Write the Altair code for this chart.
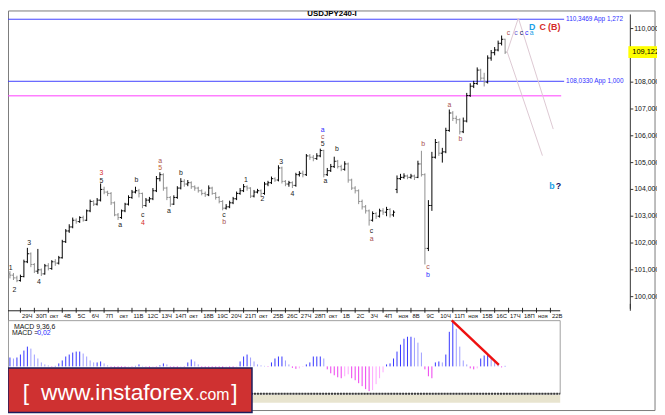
import altair as alt
import pandas as pd
import numpy as np

# ---------------- data ----------------
CLOSE = [
    100.80, 100.70, 100.60, 100.75, 101.30, 101.60, 101.20, 100.95, 101.00, 100.85,
    101.15, 101.05, 101.30, 101.25, 101.45, 102.05, 102.45, 102.60, 102.85, 102.80,
    102.95, 102.85, 103.20, 103.55, 103.45, 103.60, 104.00, 103.90, 103.85, 103.50,
    103.05, 102.95, 103.20, 103.45, 103.70, 103.90, 103.95, 103.85, 103.40, 103.60,
    103.65, 103.95, 104.40, 104.55, 104.05, 103.70, 103.45, 103.70, 104.05, 104.30,
    104.20, 104.25, 104.10, 104.05, 103.95, 103.85, 103.80, 104.05, 103.85, 103.70,
    103.55, 103.30, 103.35, 103.50, 103.65, 103.85, 103.95, 104.10, 104.05, 103.75,
    103.90, 103.95, 103.85, 104.20, 104.25, 104.40, 104.35, 104.80, 104.30, 104.20,
    104.25, 104.15, 104.55, 104.60, 104.55, 105.25, 105.20, 105.15, 105.25, 105.45,
    104.55, 104.70, 104.85, 105.05, 104.85, 104.75, 104.95, 104.35, 104.05, 103.95,
    103.55, 103.35, 103.20, 102.85, 103.10, 103.00, 103.20, 103.15, 103.25, 103.05,
    103.15, 104.40, 104.45, 104.50, 104.45, 104.50, 104.45, 104.95, 104.55, 101.80,
    103.40, 105.20, 105.75, 105.35, 105.40, 106.20, 106.85, 106.65, 106.60, 106.15,
    106.55, 107.50, 107.85, 107.95, 108.45, 108.15, 108.00, 108.90, 109.10, 109.20,
    109.45, 109.60, 109.12,
]
HIGH = [
    100.95, 100.88, 100.78, 100.82, 101.38, 101.82, 101.65, 101.25, 101.78, 101.05,
    101.22, 101.25, 101.36, 101.40, 101.52, 102.12, 102.52, 102.70, 102.95, 102.92,
    103.00, 103.02, 103.25, 103.62, 103.60, 103.68, 104.22, 104.10, 103.95, 103.90,
    103.55, 103.12, 103.25, 103.50, 103.78, 103.98, 104.10, 104.02, 103.88, 103.68,
    103.72, 104.05, 104.50, 104.64, 104.60, 104.10, 103.75, 103.78, 104.12, 104.42,
    104.38, 104.35, 104.30, 104.15, 104.10, 104.00, 103.92, 104.15, 104.10, 103.90,
    103.75, 103.60, 103.45, 103.58, 103.72, 103.92, 104.05, 104.20, 104.15, 104.08,
    103.98, 104.02, 104.00, 104.28, 104.32, 104.48, 104.45, 104.90, 104.85, 104.35,
    104.32, 104.30, 104.62, 104.68, 104.70, 105.32, 105.32, 105.28, 105.35, 105.52,
    105.48, 104.80, 104.95, 105.22, 105.10, 104.92, 105.05, 105.00, 104.40, 104.12,
    104.00, 103.62, 103.42, 103.25, 103.18, 103.15, 103.28, 103.30, 103.35, 103.30,
    103.22, 104.52, 104.58, 104.60, 104.55, 104.58, 104.55, 105.07, 105.44, 104.60,
    103.60, 105.40, 105.88, 105.80, 105.55, 106.30, 106.98, 106.92, 106.75, 106.65,
    106.68, 107.60, 107.96, 108.05, 108.55, 108.50, 108.35, 109.00, 109.20, 109.31,
    109.55, 109.74, 109.62,
]
LOW = [
    100.68, 100.62, 100.54, 100.56, 100.72, 101.25, 101.10, 100.88, 100.85, 100.77,
    100.82, 100.98, 101.00, 101.15, 101.20, 101.42, 102.00, 102.38, 102.55, 102.72,
    102.75, 102.80, 102.82, 103.15, 103.38, 103.40, 103.55, 103.82, 103.75, 103.42,
    103.00, 102.86, 102.90, 103.15, 103.40, 103.65, 103.85, 103.70, 103.30, 103.35,
    103.50, 103.60, 103.90, 104.30, 103.95, 103.60, 103.35, 103.42, 103.65, 104.00,
    104.10, 104.12, 104.02, 103.95, 103.88, 103.78, 103.72, 103.75, 103.80, 103.62,
    103.48, 103.22, 103.25, 103.30, 103.45, 103.60, 103.80, 103.90, 103.95, 103.68,
    103.70, 103.85, 103.72, 103.80, 104.12, 104.20, 104.28, 104.30, 104.22, 104.12,
    104.10, 104.05, 104.10, 104.48, 104.45, 104.50, 105.10, 105.05, 105.10, 105.20,
    104.45, 104.50, 104.65, 104.80, 104.78, 104.68, 104.70, 104.25, 103.98, 103.85,
    103.45, 103.25, 103.10, 102.65, 102.80, 102.90, 102.95, 103.05, 103.00, 102.95,
    102.98, 103.86, 104.35, 104.40, 104.38, 104.40, 104.35, 104.42, 104.48, 101.20,
    101.70, 103.20, 105.15, 105.25, 105.00, 105.35, 106.15, 106.55, 106.45, 106.05,
    106.10, 106.50, 107.45, 107.78, 107.90, 108.05, 107.84, 107.95, 108.80, 109.00,
    109.15, 109.37, 109.05,
]
FIRST_OPEN = 100.85
GAP_BAR = 111
GAP_OPEN = 104.00

MACD = [
    0.09, 0.08, 0.09, 0.12, 0.16, 0.20, 0.18, 0.12, 0.08, 0.04,
    0.02, 0.01, -0.005, 0.005, 0.03, 0.06, 0.10, 0.12, 0.14, 0.15,
    0.15, 0.13, 0.10, 0.06, 0.04, 0.04, 0.05, 0.03, 0.01, -0.005,
    -0.01, -0.01, -0.01, -0.01, -0.005, -0.005, 0.005, 0.02, 0.005, -0.005,
    -0.01, -0.005, -0.005, 0.01, 0.03, 0.02, -0.005, -0.01, -0.01, -0.005,
    -0.005, 0.04, 0.07, 0.05, 0.02, -0.01, -0.01, -0.01, -0.01, -0.01,
    -0.01, -0.015, -0.01, -0.01, -0.01, -0.005, 0.05, 0.10, 0.12, 0.09,
    0.05, 0.02, 0.01, 0.005, -0.005, 0.04, 0.08, 0.10, 0.10, 0.06,
    0.02, -0.015, -0.025, -0.02, -0.005, 0.02, 0.04, 0.10, 0.10, 0.10,
    0.08, -0.03, -0.07, -0.09, -0.11, -0.12, -0.10, -0.08, -0.12, -0.14,
    -0.17, -0.20, -0.23, -0.25, -0.24, -0.18, -0.12, -0.06, 0.02, 0.03,
    0.08, 0.15, 0.22, 0.28, 0.30, 0.30, 0.29, 0.24, 0.14, -0.03,
    -0.10, -0.12, 0.04, 0.05, 0.04, 0.12, 0.35, 0.45, 0.38, 0.20,
    0.06, 0.02, -0.02, -0.03, -0.02, 0.08, 0.11, 0.12, 0.09, 0.06,
    0.03, -0.01, 0.005,
]

DATE_LABELS = ["29Ч", "30П", "окт", "4В", "5С", "6Ч", "7П", "окт", "11В", "12С",
               "13Ч", "14П", "окт", "18В", "19С", "20Ч", "21П", "окт", "25В", "26С",
               "27Ч", "28П", "окт", "1В", "2С", "3Ч", "4П", "ноя", "8В", "9С",
               "10Ч", "11П", "ноя", "15В", "16С", "17Ч", "18П", "ноя", "22В"]
DATE_TICK_BARS = [3 + 4 * k for k in range(len(DATE_LABELS))]

PRICE_TICKS = [100, 101, 102, 103, 104, 105, 106, 107, 108, 109, 110]
LEVEL_PRICES = [110.3469, 108.0330]
LEVEL_TEXTS = ["110,3469 App 1,272", "108,0330 App 1,000"]
MAGENTA_PRICE = 107.49
LAST_PRICE = 109.122
LAST_TEXT = "109,122"

SMALL_TEXT = ["1", "2", "3", "4", "3", "5", "a", "b", "c", "4", "a", "5", "a", "b",
              "c", "b", "1", "2", "3", "4", "a", "c", "5", "a", "b", "c", "a", "b",
              "c", "b", "a", "b", "c", "c", "c", "c", "a"]
SMALL_BAR = [0.2, 1.3, 5.5, 8.3, 26.2, 26.2, 31.6, 36.3, 38.1, 38.1, 43.1, 43.1, 45.6, 49.0,
             61.4, 61.4, 67.7, 72.4, 77.8, 81.0, 89.7, 89.7, 89.7, 90.5, 93.8, 103.7, 103.7, 118.5,
             119.9, 119.9, 126.0, 129.2, 143.0, 145.1, 146.7, 148.2, 149.6]
SMALL_PRICE = [101.06, 100.25, 102.00, 100.55, 104.60, 104.31, 102.68, 104.34, 103.04, 102.76,
               105.05, 104.78, 103.21, 104.62, 103.05, 102.77, 104.36, 103.63, 105.01, 103.82,
               106.20, 105.94, 105.68, 104.31, 105.50, 102.43, 102.15, 105.69, 101.09, 100.80,
               107.14, 105.87, 109.83, 109.83, 109.83, 109.83, 109.83]
SMALL_KIND = ["k", "k", "k", "k", "r", "k", "k", "k", "k", "r", "m", "o", "k", "k",
              "k", "m", "k", "k", "k", "k", "b", "m", "k", "k", "k", "k", "m", "m",
              "m", "b", "m", "m", "m", "v", "n", "b", "c"]

BIG_TEXT = ["D", "C", "(B)", "b", "?"]
BIG_BAR = [149.8, 152.8, 156.1, 155.4, 157.3]
BIG_PRICE = [110.07, 110.07, 110.07, 104.12, 104.12]
BIG_KIND = ["c", "r", "r", "c", "n"]

CHAN_X1 = [142.6, 145.8, 142.6]
CHAN_P1 = [109.13, 110.39, 109.13]
CHAN_X2 = [145.8, 155.8, 152.7]
CHAN_P2 = [110.39, 106.25, 105.26]

TREND_X = [126.7, 140.2]
TREND_M = [0.466, 0.016]

KIND_COLOR = {"k": "#1a1a1a", "r": "#d42a2a", "m": "#a8504f", "o": "#c0602a",
              "b": "#2a2aff", "c": "#1aa0e6", "n": "#101060", "v": "#6a5acd"}

# ---------------- scales ----------------
W, H = 657, 407
XS = alt.Scale(domain=[-0.56, 185.56], nice=False, zero=False)
PS = alt.Scale(domain=[95.678, 110.674], nice=False, zero=False)
MS = alt.Scale(domain=[-0.467, 3.603], nice=False, zero=False)
FONT = "Liberation Sans"


def X(f):
    return alt.X(f + ":Q", scale=XS, axis=None)


def YP(f):
    return alt.Y(f + ":Q", scale=PS, axis=None)


def YM(f):
    return alt.Y(f + ":Q", scale=MS, axis=None)


ONE = pd.DataFrame({"k": [0]})


def box(x1, x2, y1, y2, **kw):
    return alt.Chart(ONE).mark_rect(**kw).encode(
        x=alt.value(x1), x2=alt.value(x2), y=alt.value(y1), y2=alt.value(y2))


def seg(x1, x2, y1, y2, **kw):
    return alt.Chart(ONE).mark_rule(**kw).encode(
        x=alt.value(x1), x2=alt.value(x2), y=alt.value(y1), y2=alt.value(y2))


def txt(x, y, s, **kw):
    return alt.Chart(ONE).mark_text(text=s, **kw).encode(x=alt.value(x), y=alt.value(y))


# ---------------- tables ----------------
n = len(CLOSE)
opens = [FIRST_OPEN] + CLOSE[:-1]
opens[GAP_BAR] = GAP_OPEN
bars = pd.DataFrame({"i": np.arange(n), "o": opens, "h": HIGH, "l": LOW, "c": CLOSE})
bars["il"] = bars.i - 0.45
bars["ir"] = bars.i + 0.45
bars["col"] = np.where(bars.c >= bars.o, "#000000", "#8f8f8f")

macd = pd.DataFrame({"i": np.arange(len(MACD)), "m": MACD})
macd["z"] = 0.0
prev = macd.m.shift(1).fillna(0)
macd["col"] = np.where(macd.m >= 0,
                       np.where(macd.m >= prev, "#3434ff", "#9c9cff"),
                       np.where(macd.m <= prev, "#ee3cee", "#ffa6ff"))

dates = pd.DataFrame({"t": DATE_TICK_BARS, "lab": DATE_LABELS})
pticks = pd.DataFrame({"p": PRICE_TICKS})
pticks["lab"] = [f"{p:.3f}".replace(".", ",") for p in PRICE_TICKS]
levels = pd.DataFrame({"p": LEVEL_PRICES, "lab": LEVEL_TEXTS})
mag = pd.DataFrame({"p": [MAGENTA_PRICE]})
last = pd.DataFrame({"p": [LAST_PRICE], "p1": [LAST_PRICE + 0.22], "p2": [LAST_PRICE - 0.22],
                     "lab": [LAST_TEXT]})
small = pd.DataFrame({"t": SMALL_TEXT, "i": SMALL_BAR, "p": SMALL_PRICE,
                      "col": [KIND_COLOR[k] for k in SMALL_KIND]})
big = pd.DataFrame({"t": BIG_TEXT, "i": BIG_BAR, "p": BIG_PRICE,
                    "col": [KIND_COLOR[k] for k in BIG_KIND]})
chan = pd.DataFrame({"x1": CHAN_X1, "p1": CHAN_P1, "x2": CHAN_X2, "p2": CHAN_P2})
trend = pd.DataFrame({"x1": [TREND_X[0]], "x2": [TREND_X[1]], "m1": [TREND_M[0]], "m2": [TREND_M[1]]})

# ---------------- layers ----------------
layers = []
# frames and panels
layers.append(box(0.5, 655, 0.5, 405, fillOpacity=0, stroke="#7a7a7a", strokeWidth=1))
layers.append(box(0, 559, 389, 397, color="#e8e4cf"))
layers.append(box(0.5, 559, 314, 388, fillOpacity=0, stroke="#a0a0a0", strokeWidth=1))
layers.append(seg(0, 559, 388, 388, color="#3a3a3a", strokeWidth=2, strokeDash=[2, 1]))
layers.append(seg(0, 559, 304, 304, color="#222222", strokeWidth=1))
layers.append(seg(630, 630, 4, 302, color="#333333", strokeWidth=1))
layers.append(seg(630, 630, 297, 304, color="#333333", strokeWidth=1))

# title
layers.append(txt(328, 4, "USDJPY240-I", font=FONT, fontSize=8, fontWeight="bold",
                  align="center", baseline="middle", color="#000000"))

# horizontal levels
layers.append(alt.Chart(levels).mark_rule(color="#4040ff", strokeWidth=1).encode(
    x=alt.value(0), x2=alt.value(563), y=YP("p")))
layers.append(alt.Chart(levels).mark_text(font=FONT, fontSize=6.5, align="left",
                                          baseline="middle", color="#3030ff").encode(
    x=alt.value(565), y=YP("p"), text="lab:N"))
layers.append(alt.Chart(mag).mark_rule(color="#ff3cff", strokeWidth=1).encode(
    x=alt.value(0), x2=alt.value(560), y=YP("p")))

# channel lines
layers.append(alt.Chart(chan).mark_rule(color="#dcc8d2", strokeWidth=1).encode(
    x=X("x1"), x2="x2:Q", y=YP("p1"), y2="p2:Q"))

# OHLC bars
cenc = alt.Color("col:N", scale=None)
layers.append(alt.Chart(bars).mark_rule(strokeWidth=1).encode(
    x=X("i"), y=YP("l"), y2="h:Q", color=cenc))
layers.append(alt.Chart(bars).mark_rule(strokeWidth=1).encode(
    x=X("il"), x2="i:Q", y=YP("o"), color=cenc))
layers.append(alt.Chart(bars).mark_rule(strokeWidth=1).encode(
    x=X("i"), x2="ir:Q", y=YP("c"), color=cenc))

# wave labels
layers.append(alt.Chart(small).mark_text(font=FONT, fontSize=7, align="center",
                                         baseline="middle").encode(
    x=X("i"), y=YP("p"), text="t:N", color=cenc))
layers.append(alt.Chart(big).mark_text(font=FONT, fontSize=9, fontWeight="bold",
                                       align="center", baseline="middle").encode(
    x=X("i"), y=YP("p"), text="t:N", color=cenc))

# price axis
layers.append(alt.Chart(pticks).mark_rule(color="#333333").encode(
    x=alt.value(630), x2=alt.value(633), y=YP("p")))
layers.append(alt.Chart(pticks).mark_text(font=FONT, fontSize=7, align="left",
                                          baseline="middle", color="#111111").encode(
    x=alt.value(634), y=YP("p"), text="lab:N"))
layers.append(alt.Chart(last).mark_rect(color="#ffff00").encode(
    x=alt.value(628), x2=alt.value(657), y=YP("p1"), y2="p2:Q"))
layers.append(alt.Chart(last).mark_text(font=FONT, fontSize=7.5, align="left",
                                        baseline="middle", color="#000000").encode(
    x=alt.value(632), y=YP("p"), text="lab:N"))

# date axis
layers.append(alt.Chart(dates).mark_rule(color="#222222").encode(
    x=X("t"), y=alt.value(301), y2=alt.value(306)))
layers.append(alt.Chart(dates).mark_text(font=FONT, fontSize=6, align="left",
                                         baseline="middle", dx=1.5, color="#111111").encode(
    x=X("t"), y=alt.value(309.5), text="lab:N"))

# MACD
layers.append(alt.Chart(macd).mark_rule(strokeWidth=1).encode(
    x=X("i"), y=YM("m"), y2="z:Q", color=cenc))
layers.append(alt.Chart(trend).mark_rule(color="#ee1111", strokeWidth=2.5).encode(
    x=X("x1"), x2="x2:Q", y=YM("m1"), y2="m2:Q"))
layers.append(txt(6, 320, "MACD 9,36,6", font=FONT, fontSize=7, align="left",
                  baseline="middle", color="#111111"))
layers.append(txt(4, 326.5, "MACD =", font=FONT, fontSize=7, align="left",
                  baseline="middle", color="#111111"))
layers.append(txt(29.5, 326.5, "0,02", font=FONT, fontSize=7, align="left",
                  baseline="middle", color="#2a2aff"))

# banner
layers.append(box(0, 247, 362, 407, color="#cf3131", stroke="#1c1c5c", strokeWidth=1.5))
layers.append(txt(15, 394, "[", font=FONT, fontSize=23, align="left",
                  baseline="alphabetic", color="#ffffff"))
layers.append(txt(33.5, 394, "www.instaforex", font=FONT, fontSize=23, align="left",
                  baseline="alphabetic", color="#ffffff"))
layers.append(txt(189.5, 394, ".com", font=FONT, fontSize=16, align="left",
                  baseline="alphabetic", color="#ffffff"))
layers.append(txt(226, 394, "]", font=FONT, fontSize=23, align="left",
                  baseline="alphabetic", color="#ffffff"))

chart = alt.layer(*layers).resolve_scale(y="independent").properties(
    width=W, height=H, autosize=alt.AutoSizeParams(type="none"), padding=0,
    background="#ffffff"
).configure_view(strokeWidth=0)

chart.save("out.html", embed_options={"renderer": "svg", "actions": False})
